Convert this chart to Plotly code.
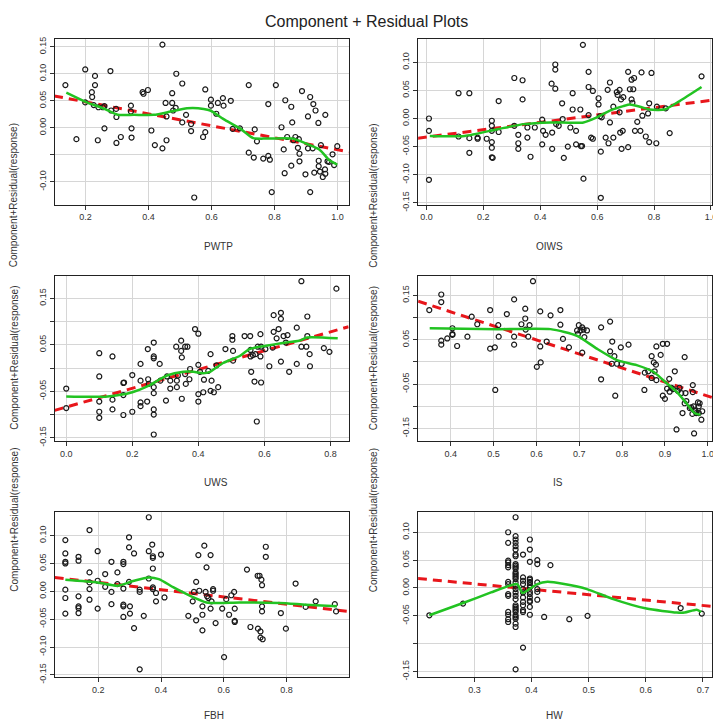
import plotly.graph_objects as go

TITLE = "Component + Residual Plots"
YLAB = "Component+Residual(response)"

# ---- PWTP ----
pwtp_x = [0.136, 0.171, 0.199, 0.199, 0.220, 0.221, 0.226, 0.230, 0.230, 0.260, 0.239, 0.241, 0.255, 0.260,
          0.279, 0.281, 0.297, 0.298, 0.298, 0.312, 0.344, 0.344, 0.346, 0.346, 0.381, 0.384, 0.398, 0.409,
          0.420, 0.444, 0.444, 0.454, 0.457, 0.457, 0.475, 0.475, 0.478, 0.486, 0.488, 0.507, 0.507, 0.519,
          0.535, 0.535, 0.545, 0.573, 0.580, 0.580, 0.598, 0.598, 0.615, 0.620, 0.636, 0.638, 0.661, 0.667,
          0.690, 0.718, 0.718, 0.734, 0.737, 0.744, 0.764, 0.780, 0.780, 0.785, 0.791, 0.804, 0.822, 0.829,
          0.832, 0.834, 0.840, 0.853, 0.853, 0.856, 0.860, 0.866, 0.874, 0.877, 0.879, 0.879, 0.887, 0.898,
          0.906, 0.906, 0.913, 0.913, 0.923, 0.921, 0.926, 0.930, 0.939, 0.940, 0.940, 0.944, 0.947, 0.953,
          0.960, 0.961, 0.961, 0.968, 0.973, 0.984, 0.989, 0.999]
pwtp_y = [0.079, -0.021, 0.108, 0.047, 0.066, 0.057, 0.042, 0.079, 0.096, -0.001, -0.023, 0.038, 0.038, 0.040,
          0.105, 0.032, 0.035, 0.020, -0.028, -0.017, 0.041, 0.030, -0.001, -0.018, 0.066, 0.063, 0.070, -0.005,
          -0.032, 0.154, -0.038, 0.046, 0.021, -0.023, 0.064, 0.046, 0.032, 0.037, 0.100, 0.082, 0.010, 0.024,
          0.007, -0.006, -0.129, -0.017, 0.071, -0.008, 0.052, 0.041, 0.026, 0.046, 0.055, 0.041, 0.050, -0.002,
          -0.001, 0.079, -0.046, -0.055, -0.003, -0.025, -0.057, 0.044, -0.052, -0.059, -0.119, 0.079, 0.001, -0.040,
          -0.084, 0.051, -0.017, 0.039, -0.070, 0.010, -0.023, -0.017, -0.037, -0.021, -0.048, -0.062, 0.068, -0.086,
          0.021, -0.038, 0.057, -0.119, 0.044, -0.038, -0.083, 0.032, 0.009, -0.061, -0.071, -0.081, -0.032, -0.091,
          -0.077, -0.085, 0.024, -0.062, -0.063, -0.049, -0.069, -0.034]
pwtp_fit_x = [0.10, 1.04]
pwtp_fit_y = [0.059, -0.045]
pwtp_smooth_x = [0.139, 0.200, 0.260, 0.302, 0.354, 0.417, 0.470, 0.522, 0.575, 0.596, 0.638, 0.690, 0.732,
                 0.774, 0.858, 0.900, 0.942, 0.974, 0.999]
pwtp_smooth_y = [0.065, 0.048, 0.035, 0.024, 0.024, 0.024, 0.030, 0.036, 0.035, 0.032, 0.016, -0.001, -0.019,
                 -0.020, -0.020, -0.029, -0.040, -0.060, -0.068]

# ---- OIWS ----
oiws_x = [0.009, 0.009, 0.009, 0.113, 0.113, 0.151, 0.151, 0.151, 0.180, 0.180, 0.212, 0.230, 0.230, 0.230,
          0.230, 0.230, 0.230, 0.233, 0.254, 0.254, 0.309, 0.309, 0.323, 0.323, 0.323, 0.338, 0.338, 0.355,
          0.355, 0.366, 0.381, 0.407, 0.407, 0.410, 0.419, 0.440, 0.442, 0.442, 0.453, 0.453, 0.453, 0.456,
          0.465, 0.477, 0.479, 0.483, 0.497, 0.506, 0.514, 0.514, 0.526, 0.526, 0.541, 0.543, 0.547, 0.550,
          0.552, 0.570, 0.570, 0.570, 0.579, 0.585, 0.585, 0.605, 0.605, 0.610, 0.613, 0.613, 0.616, 0.630,
          0.637, 0.640, 0.645, 0.645, 0.657, 0.657, 0.669, 0.672, 0.679, 0.679, 0.681, 0.684, 0.686, 0.690,
          0.692, 0.709, 0.709, 0.715, 0.721, 0.721, 0.724, 0.727, 0.730, 0.733, 0.741, 0.752, 0.756, 0.759,
          0.771, 0.779, 0.783, 0.783, 0.791, 0.808, 0.810, 0.841, 0.855, 0.967]
oiws_y = [0.000, -0.022, -0.109, 0.045, -0.032, 0.045, -0.035, -0.061, -0.034, -0.036, -0.036, -0.004, -0.013, -0.022,
          -0.042, -0.052, -0.069, -0.070, -0.024, 0.031, 0.072, -0.013, -0.029, -0.044, -0.054, 0.068, 0.034, -0.016,
          -0.034, -0.068, -0.016, -0.002, -0.046, -0.022, -0.029, 0.062, -0.025, -0.054, 0.096, 0.087, 0.053, -0.010,
          -0.013, 0.027, -0.001, -0.070, -0.050, -0.016, 0.045, 0.016, -0.022, -0.046, 0.016, -0.049, -0.049, 0.131,
          -0.107, 0.083, 0.056, 0.006, -0.034, 0.049, -0.036, 0.036, 0.025, 0.004, -0.059, -0.141, 0.002, -0.034,
          0.051, -0.044, 0.064, -0.007, 0.021, -0.034, 0.047, 0.042, 0.051, 0.011, -0.025, 0.034, -0.054, -0.022,
          0.038, 0.083, -0.051, 0.052, 0.069, 0.034, 0.028, 0.052, 0.072, -0.022, -0.006, -0.022, 0.082, 0.005,
          -0.032, 0.009, 0.027, -0.042, 0.081, -0.044, 0.021, 0.018, -0.026, 0.075]
oiws_fit_x = [-0.03, 1.01]
oiws_fit_y = [-0.035, 0.033]
oiws_smooth_x = [0.012, 0.134, 0.250, 0.343, 0.436, 0.552, 0.599, 0.645, 0.692, 0.715, 0.750, 0.785, 0.837,
                 0.890, 0.967]
oiws_smooth_y = [-0.031, -0.031, -0.019, -0.010, -0.007, -0.007, 0.002, 0.014, 0.022, 0.025, 0.021, 0.016, 0.016,
                 0.031, 0.056]

# ---- UWS ----
uws_x = [0.000, 0.000, 0.100, 0.100, 0.100, 0.100, 0.100, 0.140, 0.140, 0.140, 0.173, 0.173, 0.175, 0.173,
         0.200, 0.200, 0.225, 0.225, 0.225, 0.225, 0.245, 0.247, 0.248, 0.250, 0.265, 0.265, 0.265, 0.265,
         0.265, 0.265, 0.265, 0.265, 0.283, 0.285, 0.302, 0.305, 0.315, 0.315, 0.333, 0.335, 0.335, 0.338,
         0.348, 0.348, 0.350, 0.350, 0.360, 0.360, 0.362, 0.367, 0.373, 0.375, 0.390, 0.400, 0.400, 0.400,
         0.400, 0.405, 0.415, 0.417, 0.430, 0.437, 0.437, 0.440, 0.447, 0.455, 0.460, 0.482, 0.503, 0.503,
         0.505, 0.505, 0.540, 0.557, 0.558, 0.558, 0.560, 0.565, 0.570, 0.573, 0.577, 0.580, 0.588, 0.588,
         0.590, 0.590, 0.603, 0.615, 0.625, 0.628, 0.628, 0.637, 0.643, 0.650, 0.650, 0.650, 0.658, 0.665,
         0.670, 0.675, 0.698, 0.698, 0.712, 0.712, 0.727, 0.730, 0.730, 0.737, 0.738, 0.780, 0.797, 0.818]
uws_y = [-0.044, -0.086, 0.032, -0.018, -0.072, -0.094, -0.107, 0.025, -0.068, -0.089, -0.032, -0.058, -0.031, -0.101,
         -0.015, -0.094, 0.009, -0.027, -0.074, -0.082, -0.072, 0.041, -0.024, -0.034, 0.055, 0.025, 0.021, -0.041,
         -0.054, -0.089, -0.100, -0.143, 0.009, -0.027, -0.070, -0.018, -0.027, -0.044, 0.046, -0.027, -0.041, -0.016,
         0.059, 0.037, 0.023, -0.066, 0.046, -0.013, -0.034, 0.046, -0.024, -0.002, 0.084, 0.074, 0.007, -0.056,
         -0.072, -0.008, -0.052, -0.025, -0.006, 0.030, -0.049, -0.027, -0.052, 0.006, -0.041, 0.041, 0.069, 0.061,
         0.037, 0.016, 0.069, 0.069, 0.039, 0.025, -0.008, 0.028, -0.029, 0.030, -0.115, 0.046, 0.073, 0.025,
         -0.031, 0.046, 0.041, 0.004, 0.044, 0.114, 0.078, 0.064, 0.084, 0.119, 0.106, 0.014, 0.069, 0.055,
         0.071, -0.008, 0.087, 0.009, 0.187, 0.046, 0.046, 0.111, 0.069, 0.030, 0.004, 0.043, 0.035, 0.171]
uws_fit_x = [-0.035, 0.855]
uws_fit_y = [-0.091, 0.089]
uws_smooth_x = [0.000, 0.125, 0.200, 0.250, 0.305, 0.355, 0.385, 0.415, 0.435, 0.475, 0.525, 0.555, 0.605,
                0.655, 0.705, 0.730, 0.822]
uws_smooth_y = [-0.061, -0.061, -0.052, -0.038, -0.016, -0.008, -0.008, -0.011, -0.008, 0.011, 0.026, 0.041, 0.048,
                0.054, 0.059, 0.066, 0.064]

# ---- IS ----
is_x = [0.350, 0.378, 0.378, 0.378, 0.378, 0.392, 0.404, 0.404, 0.404, 0.415, 0.439, 0.449, 0.462, 0.492,
        0.492, 0.503, 0.504, 0.511, 0.512, 0.531, 0.548, 0.548, 0.548, 0.565, 0.574, 0.574, 0.575, 0.581,
        0.584, 0.592, 0.601, 0.609, 0.610, 0.609, 0.624, 0.633, 0.656, 0.656, 0.662, 0.676, 0.695, 0.697,
        0.699, 0.703, 0.707, 0.707, 0.710, 0.712, 0.718, 0.751, 0.751, 0.772, 0.772, 0.777, 0.776, 0.782,
        0.784, 0.788, 0.797, 0.799, 0.815, 0.852, 0.853, 0.861, 0.869, 0.869, 0.874, 0.876, 0.879, 0.880,
        0.880, 0.890, 0.895, 0.895, 0.900, 0.905, 0.905, 0.910, 0.911, 0.915, 0.919, 0.923, 0.927, 0.930,
        0.934, 0.938, 0.941, 0.946, 0.946, 0.948, 0.950, 0.958, 0.961, 0.964, 0.965, 0.965, 0.967, 0.968,
        0.969, 0.971, 0.973, 0.977, 0.979, 0.979, 0.981, 0.985, 0.987]
is_y = [0.117, 0.152, 0.135, 0.048, 0.039, 0.053, 0.076, 0.063, 0.061, 0.036, 0.057, 0.102, 0.085, 0.117,
        0.030, 0.033, -0.063, 0.083, 0.057, 0.108, 0.141, 0.057, 0.039, 0.085, 0.120, 0.098, 0.073, 0.057,
        0.083, 0.182, -0.011, 0.035, -0.001, 0.114, 0.046, 0.105, 0.117, 0.084, 0.052, 0.033, 0.071, 0.063,
        0.083, 0.071, 0.078, 0.021, 0.073, 0.056, 0.071, -0.039, 0.078, 0.091, 0.024, 0.046, -0.004, 0.013,
        -0.076, -0.004, 0.033, -0.004, 0.039, -0.063, -0.024, -0.021, 0.013, -0.036, -0.001, -0.021, -0.006, 0.035,
        -0.041, 0.016, 0.041, -0.076, -0.083, 0.041, -0.060, -0.038, -0.067, -0.058, -0.061, -0.021, -0.152, -0.065,
        -0.058, -0.070, -0.115, 0.011, -0.093, -0.070, -0.088, -0.104, -0.102, -0.117, -0.052, -0.068, -0.100, -0.161,
        -0.109, -0.111, -0.115, -0.091, -0.100, -0.115, -0.093, -0.130, -0.111]
is_fit_x = [0.324, 1.010]
is_fit_y = [0.137, -0.080]
is_smooth_x = [0.351, 0.510, 0.633, 0.695, 0.741, 0.788, 0.834, 0.873, 0.896, 0.927, 0.950, 0.969, 0.983]
is_smooth_y = [0.076, 0.074, 0.074, 0.059, 0.030, 0.004, -0.007, -0.022, -0.041, -0.067, -0.093, -0.115, -0.119]

# ---- FBH ----
fbh_x = [0.095, 0.095, 0.095, 0.095, 0.095, 0.095, 0.095, 0.137, 0.137, 0.137, 0.137, 0.137, 0.137, 0.172,
         0.172, 0.172, 0.172, 0.172, 0.198, 0.198, 0.198, 0.222, 0.222, 0.242, 0.242, 0.242, 0.261, 0.261,
         0.280, 0.280, 0.280, 0.280, 0.280, 0.280, 0.298, 0.298, 0.298, 0.301, 0.301, 0.314, 0.314, 0.332,
         0.332, 0.332, 0.345, 0.361, 0.361, 0.361, 0.372, 0.374, 0.374, 0.374, 0.374, 0.374, 0.384, 0.384,
         0.400, 0.411, 0.487, 0.501, 0.505, 0.512, 0.512, 0.519, 0.522, 0.532, 0.532, 0.532, 0.538, 0.542,
         0.545, 0.547, 0.551, 0.558, 0.558, 0.561, 0.566, 0.566, 0.574, 0.595, 0.601, 0.608, 0.617, 0.624,
         0.633, 0.635, 0.635, 0.635, 0.674, 0.685, 0.708, 0.709, 0.714, 0.717, 0.717, 0.720, 0.722, 0.722,
         0.722, 0.724, 0.734, 0.734, 0.782, 0.798, 0.829, 0.861, 0.893, 0.954, 0.958]
fbh_y = [0.092, 0.068, 0.053, 0.050, 0.003, -0.012, -0.040, 0.062, 0.055, -0.009, -0.027, -0.030, -0.039, 0.110,
         0.034, 0.016, 0.004, -0.015, 0.072, 0.019, -0.031, 0.031, 0.008, 0.053, -0.001, -0.023, 0.034, 0.013,
         0.053, 0.049, 0.005, -0.024, -0.027, -0.046, 0.097, 0.079, 0.017, -0.027, -0.040, 0.068, -0.066, 0.003,
         -0.001, -0.140, -0.044, 0.133, 0.072, 0.023, 0.084, 0.063, 0.060, 0.041, 0.007, 0.004, -0.003, -0.018,
         0.066, -0.011, -0.044, -0.018, -0.001, 0.017, -0.052, 0.065, 0.001, -0.027, -0.042, -0.070, 0.082, -0.001,
         0.043, -0.009, -0.012, 0.065, -0.031, -0.018, 0.004, 0.001, -0.057, -0.031, -0.118, -0.014, -0.042, -0.007,
         -0.001, -0.031, -0.053, -0.055, 0.039, -0.064, 0.028, -0.067, 0.028, -0.072, -0.083, 0.021, 0.011, -0.027,
         -0.036, -0.086, 0.080, 0.062, -0.039, -0.067, 0.014, -0.028, -0.018, -0.023, -0.036]
fbh_fit_x = [0.061, 0.998]
fbh_fit_y = [0.025, -0.036]
fbh_smooth_x = [0.095, 0.198, 0.261, 0.314, 0.361, 0.393, 0.440, 0.493, 0.545, 0.587, 0.651, 0.777, 0.861, 0.961]
fbh_smooth_y = [0.021, 0.016, 0.010, 0.019, 0.025, 0.022, 0.007, -0.008, -0.020, -0.021, -0.020, -0.021, -0.024,
                -0.027]

# ---- HW ----
hw_x = [0.221, 0.280,
        0.359, 0.359, 0.359, 0.359, 0.359, 0.359, 0.359, 0.359, 0.359, 0.359, 0.359, 0.359, 0.359, 0.359,
        0.372, 0.372, 0.372, 0.372, 0.372, 0.372, 0.372, 0.372, 0.372, 0.372, 0.372, 0.372, 0.372, 0.372,
        0.372, 0.372, 0.372, 0.372, 0.372, 0.372, 0.372, 0.372, 0.372, 0.372, 0.372, 0.372, 0.372, 0.372,
        0.372, 0.372, 0.372, 0.372, 0.372, 0.372,
        0.385, 0.385, 0.385, 0.385, 0.385, 0.385, 0.385, 0.385, 0.385, 0.385, 0.385, 0.385,
        0.397, 0.397, 0.397, 0.397, 0.397, 0.397, 0.397, 0.397, 0.397, 0.397, 0.397, 0.397, 0.397, 0.397,
        0.397, 0.397,
        0.410, 0.410, 0.410, 0.410, 0.410, 0.410,
        0.433, 0.422, 0.466, 0.498, 0.661, 0.698]
hw_y = [-0.049, -0.028,
        0.100, 0.081, 0.049, 0.046, 0.041, 0.037, 0.011, 0.007, -0.011, -0.014, -0.043, -0.048, -0.056, -0.061,
        0.127, 0.093, 0.087, 0.081, 0.075, 0.069, 0.060, 0.057, 0.043, 0.040, 0.037, 0.034, 0.028, 0.025,
        0.022, 0.019, 0.016, 0.010, 0.004, -0.002, -0.008, -0.014, -0.020, -0.031, -0.034, -0.037, -0.040, -0.043,
        -0.049, -0.052, -0.055, -0.064, -0.070, -0.146,
        0.060, 0.019, 0.013, 0.007, -0.002, -0.008, -0.017, -0.025, -0.031, -0.040, -0.043, -0.107,
        0.087, 0.069, 0.047, 0.017, 0.015, 0.011, 0.009, 0.005, 0.001, -0.007, -0.011, -0.017, -0.023, -0.025,
        -0.034, -0.048,
        0.050, 0.043, 0.010, -0.002, -0.007, -0.021,
        0.041, -0.052, -0.056, -0.050, -0.036, -0.046]
hw_fit_x = [0.201, 0.716]
hw_fit_y = [0.017, -0.033]
hw_smooth_x = [0.221, 0.280, 0.329, 0.364, 0.375, 0.384, 0.396, 0.410, 0.428, 0.457, 0.497, 0.543, 0.601, 0.654,
               0.668, 0.689, 0.697]
hw_smooth_y = [-0.049, -0.027, -0.008, 0.005, 0.007, -0.009, -0.002, 0.007, 0.011, 0.007, -0.002, -0.020, -0.037,
               -0.044, -0.044, -0.039, -0.043]


def lab(vals, skip=(), fmt="{:.2f}"):
    return [("" if v in skip else fmt.format(v)) for v in vals]


Y6 = [-0.15, -0.10, -0.05, 0.0, 0.05, 0.10, 0.15]
panels = [
    dict(name="PWTP", x=pwtp_x, y=pwtp_y, fx=pwtp_fit_x, fy=pwtp_fit_y, sx=pwtp_smooth_x, sy=pwtp_smooth_y,
         xr=[0.102, 1.035], yr=[-0.142, 0.165], xt=[0.2, 0.4, 0.6, 0.8, 1.0],
         yt=Y6[1:], yskip=(-0.05,)),
    dict(name="OIWS", x=oiws_x, y=oiws_y, fx=oiws_fit_x, fy=oiws_fit_y, sx=oiws_smooth_x, sy=oiws_smooth_y,
         xr=[-0.029, 1.004], yr=[-0.153, 0.142], xt=[0.0, 0.2, 0.4, 0.6, 0.8, 1.0],
         yt=Y6[:-1], yskip=()),
    dict(name="UWS", x=uws_x, y=uws_y, fx=uws_fit_x, fy=uws_fit_y, sx=uws_smooth_x, sy=uws_smooth_y,
         xr=[-0.035, 0.855], yr=[-0.156, 0.199], xt=[0.0, 0.2, 0.4, 0.6, 0.8],
         yt=Y6, yskip=(-0.10, 0.0, 0.10)),
    dict(name="IS", x=is_x, y=is_y, fx=is_fit_x, fy=is_fit_y, sx=is_smooth_x, sy=is_smooth_y,
         xr=[0.324, 1.010], yr=[-0.177, 0.1945], xt=[0.4, 0.5, 0.6, 0.7, 0.8, 0.9, 1.0],
         yt=Y6, yskip=(-0.10, 0.0, 0.10)),
    dict(name="FBH", x=fbh_x, y=fbh_y, fx=fbh_fit_x, fy=fbh_fit_y, sx=fbh_smooth_x, sy=fbh_smooth_y,
         xr=[0.061, 0.998], yr=[-0.153, 0.143], xt=[0.2, 0.4, 0.6, 0.8],
         yt=Y6[:-1], yskip=()),
    dict(name="HW", x=hw_x, y=hw_y, fx=hw_fit_x, fy=hw_fit_y, sx=hw_smooth_x, sy=hw_smooth_y,
         xr=[0.2014, 0.716], yr=[-0.159, 0.137], xt=[0.3, 0.4, 0.5, 0.6, 0.7],
         yt=Y6[:-1], yskip=(-0.10,)),
]

W = H = 721
cols = [(47, 343), (413, 709)]
rows = [(29, 197), (269, 436), (508, 675)]

fig = go.Figure()
layout = {}
annotations = [dict(text=TITLE, x=0.5, y=1 - 12 / H, xref="paper", yref="paper", showarrow=False,
                    font=dict(size=16, color="#222"), xanchor="center", yanchor="middle")]
font_tick = dict(family="Liberation Sans, Arial", size=9, color="#333")

for i, p in enumerate(panels):
    c0, c1 = cols[i % 2]
    r0, r1 = rows[i // 2]
    xa, ya = ("x" if i == 0 else f"x{i + 1}"), ("y" if i == 0 else f"y{i + 1}")
    xk, yk = ("xaxis" if i == 0 else f"xaxis{i + 1}"), ("yaxis" if i == 0 else f"yaxis{i + 1}")

    fig.add_trace(go.Scatter(x=p["fx"], y=p["fy"], mode="lines", xaxis=xa, yaxis=ya,
                             line=dict(color="#e8161b", width=3, dash="9px,6px"), showlegend=False))
    fig.add_trace(go.Scatter(x=p["x"], y=p["y"], mode="markers", xaxis=xa, yaxis=ya, showlegend=False,
                             marker=dict(symbol="circle-open", size=5, color="#1a1a1a", line=dict(width=1.2))))
    fig.add_trace(go.Scatter(x=p["sx"], y=p["sy"], mode="lines", xaxis=xa, yaxis=ya, showlegend=False,
                             line=dict(color="#22c322", width=2.5, shape="spline", smoothing=0.6)))

    common = dict(showgrid=True, gridcolor="#d6d6d6", gridwidth=1, zeroline=False, showline=True,
                  linecolor="#222", linewidth=1.3, mirror=True, ticks="outside", ticklen=4,
                  tickcolor="#333", tickfont=font_tick)
    layout[xk] = dict(common, domain=[c0 / W, c1 / W], range=p["xr"], anchor=ya,
                      tickvals=p["xt"], ticktext=lab(p["xt"], fmt="{:.1f}"))
    layout[yk] = dict(common, domain=[1 - r1 / H, 1 - r0 / H], range=p["yr"], anchor=xa,
                      tickvals=p["yt"], ticktext=lab(p["yt"], p["yskip"]), tickangle=-90)

    annotations.append(dict(text=p["name"], x=(c0 + c1) / 2 / W, y=1 - r1 / H, xref="paper", yref="paper",
                            showarrow=False, yanchor="middle", yshift=(-39 if i >= 4 else -42),
                            font=dict(family="Liberation Sans, Arial", size=10, color="#333")))
    annotations.append(dict(text=YLAB, x=c0 / W, y=1 - (r0 + r1) / 2 / H, xref="paper", yref="paper",
                            showarrow=False, textangle=-90, xanchor="center",
                            xshift=(-41 if i % 2 == 0 else -45),
                            font=dict(family="Liberation Sans, Arial", size=10, color="#333")))

fig.update_layout(
    width=W, height=H,
    margin=dict(l=0, r=0, t=0, b=0),
    paper_bgcolor="white", plot_bgcolor="white",
    font=dict(family="Liberation Sans, Arial", color="#222"),
    annotations=annotations,
    **layout
)
fig.write_html("out.html")
